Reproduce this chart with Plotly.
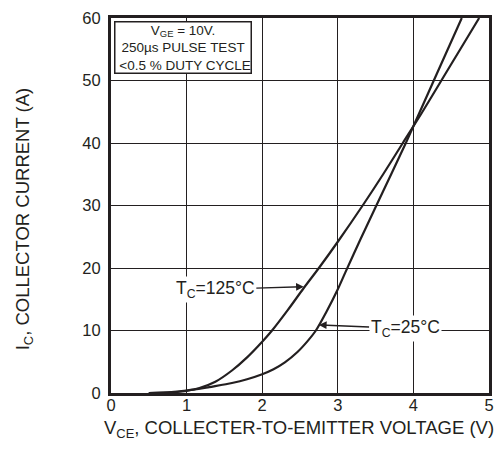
import plotly.graph_objects as go

# Data
v_125 = [0.5, 0.8, 1.0, 1.16, 1.38, 1.6, 1.8, 2.0, 2.13, 2.34, 2.55, 2.75, 3.0, 3.34, 3.6, 3.86, 4.1, 4.37, 4.62, 4.87]
i_125 = [0, 0.1, 0.35, 0.75, 1.8, 3.6, 5.7, 8.2, 10, 13.3, 16.8, 20, 24.2, 30.2, 35, 40, 44.6, 50, 55, 60]

v_25 = [0.5, 0.8, 1.0, 1.16, 1.3, 1.6, 1.8, 2.0, 2.15, 2.3, 2.47, 2.6, 2.71, 2.85, 3.0, 3.1, 3.3, 3.51, 3.9, 4.27, 4.64]
i_25 = [0, 0.15, 0.4, 0.65, 0.95, 1.6, 2.2, 3.0, 3.8, 4.9, 6.6, 8.3, 10, 13.0, 16.6, 19.3, 24.6, 30, 40, 50, 60]

x_ticks = [0, 1, 2, 3, 4, 5]
y_ticks = [0, 10, 20, 30, 40, 50, 60]

INK = "#231f20"
FONT = "Liberation Sans, Arial, Helvetica, sans-serif"

fig = go.Figure()
for vx, iy in ((v_125, i_125), (v_25, i_25)):
    fig.add_trace(go.Scatter(x=vx, y=iy, mode="lines",
                             line=dict(color=INK, width=2.2, shape="spline", smoothing=0.8),
                             showlegend=False, hoverinfo="skip"))

fig.update_layout(
    width=503, height=449,
    margin=dict(l=111, r=9, t=9, b=56),
    paper_bgcolor="white", plot_bgcolor="white",
    font=dict(family=FONT, color=INK, size=16),
    xaxis=dict(range=[0, 5], tickvals=x_ticks, ticktext=[str(t) for t in x_ticks],
               showgrid=True, gridcolor=INK, gridwidth=1.3, zeroline=False,
               showline=True, linecolor=INK, linewidth=3, mirror=True,
               ticks="", ticklen=0, ticklabelstandoff=-5, tickfont=dict(size=16.5, color=INK)),
    yaxis=dict(range=[0, 60], tickvals=y_ticks, ticktext=[str(t) for t in y_ticks],
               showgrid=True, gridcolor=INK, gridwidth=1.3, zeroline=False,
               showline=True, linecolor=INK, linewidth=3, mirror=True,
               ticks="", ticklen=0, ticklabelstandoff=4, tickfont=dict(size=16.5, color=INK)),
)

annotations = [
    # conditions box
    dict(xref="paper", yref="paper", x=0.008, y=0.993, xanchor="left", yanchor="top",
         text="V<sub>GE</sub> = 10V.<br>250µs PULSE TEST<br> &lt;0.5 % DUTY CYCLE",
         showarrow=False, align="center", font=dict(size=13.5, color=INK),
         bordercolor=INK, borderwidth=1.5, borderpad=0, bgcolor="white"),
    # 125 C label
    dict(x=2.55, y=17.0, xref="x", yref="y", ax=1.38, ay=16.6, axref="x", ayref="y",
         text="T<sub>C</sub>=125°C", showarrow=True, arrowhead=2, arrowsize=1.1, arrowwidth=1.4,
         arrowcolor=INK, font=dict(size=17.5, color=INK), bgcolor="white", borderpad=1),
    # 25 C label
    dict(x=2.75, y=10.9, xref="x", yref="y", ax=3.89, ay=10.3, axref="x", ayref="y",
         text="T<sub>C</sub>=25°C", showarrow=True, arrowhead=2, arrowsize=1.1, arrowwidth=1.4,
         arrowcolor=INK, font=dict(size=17.5, color=INK), bgcolor="white", borderpad=1),
    # axis titles
    dict(xref="paper", yref="paper", x=(301.5 - 111) / 383, y=-(430 - 393) / 384,
         xanchor="center", yanchor="middle", showarrow=False,
         text="V<sub>CE</sub>, COLLECTER-TO-EMITTER VOLTAGE (V)", font=dict(size=18.5, color=INK)),
    dict(xref="paper", yref="paper", x=(23 - 111) / 383, y=(393 - 215) / 384,
         xanchor="center", yanchor="middle", showarrow=False, textangle=-90,
         text="I<sub>C</sub>, COLLECTOR CURRENT (A)", font=dict(size=18.5, color=INK)),
]
fig.update_layout(annotations=annotations)

fig.write_html("out.html")
